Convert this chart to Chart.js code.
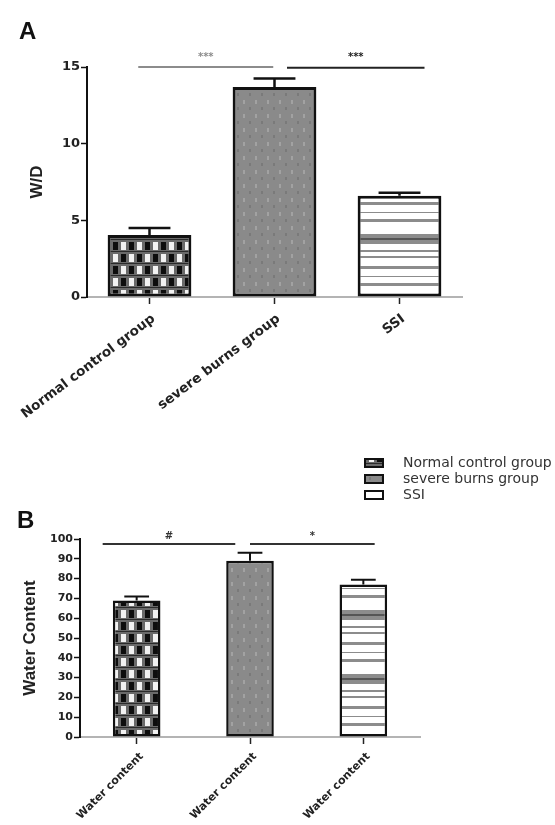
<!DOCTYPE html>
<html>
<head>
<meta charset="utf-8">
<script src="https://cdn.jsdelivr.net/npm/chart.js@4/dist/chart.umd.min.js"></script>
<style>
  html, body { margin: 0; padding: 0; background: #fff; width: 555px; height: 825px; overflow: hidden; }
  canvas { position: absolute; left: 0; }
  #wd { top: 0; }
  #water { top: 440px; }
</style>
</head>
<body>
<canvas id="wd" width="555" height="440"></canvas>
<canvas id="water" width="555" height="385"></canvas>
<script>
// ---- data -------------------------------------------------------------
const groups = ['Normal control group', 'severe burns group', 'SSI'];

// Panel A: wet/dry weight ratio (mean, upper SEM)
const wdValues = [4.05, 13.7, 6.6];
const wdErrors = [0.45, 0.55, 0.2];
const wdTicks = [0, 5, 10, 15];
const wdMarks = ['***', '***'];

// Panel B: water content (%)
const waterLabels = ['Water content', 'Water content', 'Water content'];
const waterValues = [69, 89, 77];
const waterErrors = [2, 4, 2.4];
const waterTicks = [0, 10, 20, 30, 40, 50, 60, 70, 80, 90, 100];
const waterMarks = ['#', '*'];

// ---- fill patterns ----------------------------------------------------
function tile(w, h, paint) {
  const c = document.createElement('canvas');
  c.width = w; c.height = h;
  paint(c.getContext('2d'));
  return c;
}
function makePatterns(ctx) {
  const check = ctx.createPattern(tile(16, 24, g => {
    g.fillStyle = '#6a6a6a'; g.fillRect(0, 0, 16, 24);
    g.fillStyle = '#0d0d0d'; g.fillRect(1, 2, 5, 8); g.fillRect(9, 14, 5, 8);
    g.fillStyle = '#f2f2f2'; g.fillRect(9, 2, 5, 8); g.fillRect(1, 14, 5, 8);
    g.fillStyle = '#2a2a2a'; g.fillRect(0, 11, 16, 1); g.fillRect(0, 23, 16, 1);
  }), 'repeat');
  const dotted = ctx.createPattern(tile(12, 14, g => {
    g.fillStyle = '#8a8a8a'; g.fillRect(0, 0, 12, 14);
    g.fillStyle = '#a2a2a2'; g.fillRect(3, 2, 2, 4);
    g.fillStyle = '#7a7a7a'; g.fillRect(9, 9, 2, 3);
  }), 'repeat');
  const stripes = ctx.createPattern(tile(8, 64, g => {
    g.fillStyle = '#ffffff'; g.fillRect(0, 0, 8, 64);
    g.fillStyle = '#8c8c8c';
    [[0, 2], [10, 3], [20, 1], [27, 3], [42, 10], [58, 2]].forEach(([y, h]) => g.fillRect(0, y, 8, h));
    g.fillStyle = '#555'; g.fillRect(0, 46, 8, 2);
  }), 'repeat');
  return [check, dotted, stripes];
}

// ---- plugins ----------------------------------------------------------
const errorBars = {
  id: 'errorBars',
  afterDatasetsDraw(chart, args, opts) {
    const { ctx, scales: { y } } = chart;
    const meta = chart.getDatasetMeta(0);
    const vals = chart.data.datasets[0].data;
    meta.data.forEach((bar, i) => {
      const yv = y.getPixelForValue(vals[i]);
      const ye = y.getPixelForValue(vals[i] + opts.errors[i]);
      const half = bar.width * opts.cap / 2;
      ctx.save();
      ctx.strokeStyle = '#111';
      ctx.lineWidth = opts.lineWidth;
      ctx.beginPath();
      ctx.moveTo(bar.x, yv); ctx.lineTo(bar.x, ye);
      ctx.moveTo(bar.x - half, ye); ctx.lineTo(bar.x + half, ye);
      ctx.stroke();
      ctx.restore();
    });
  }
};

const brackets = {
  id: 'brackets',
  afterDraw(chart, args, opts) {
    const { ctx, scales: { x, y } } = chart;
    opts.items.forEach(b => {
      const x1 = x.getPixelForValue(b.from);
      const x2 = x.getPixelForValue(b.to);
      const yy = y.getPixelForValue(b.at);
      ctx.save();
      ctx.strokeStyle = b.color;
      ctx.lineWidth = opts.lineWidth;
      ctx.beginPath(); ctx.moveTo(x1, yy); ctx.lineTo(x2, yy); ctx.stroke();
      ctx.fillStyle = b.color;
      ctx.font = opts.font;
      ctx.textAlign = 'center';
      ctx.textBaseline = 'middle';
      ctx.fillText(b.text, (x1 + x2) / 2, yy - opts.gap);
      ctx.restore();
    });
  }
};

const groupLegend = {
  id: 'groupLegend',
  afterDraw(chart, args, opts) {
    const { ctx, chartArea } = chart;
    const fills = chart.data.datasets[0].backgroundColor;
    opts.names.forEach((name, i) => {
      const bx = chartArea.right + opts.dx;
      const by = chartArea.top + opts.dy + i * opts.rowGap;
      ctx.save();
      ctx.fillStyle = fills[i];
      ctx.fillRect(bx, by - 4, 18, 8);
      ctx.strokeStyle = '#111';
      ctx.lineWidth = 2;
      ctx.strokeRect(bx, by - 4, 18, 8);
      ctx.fillStyle = '#333';
      ctx.font = '14px "DejaVu Sans"';
      ctx.textAlign = 'left';
      ctx.textBaseline = 'middle';
      ctx.fillText(name, bx + 38, by);
      ctx.restore();
    });
  }
};

const panelLetter = {
  id: 'panelLetter',
  afterDraw(chart, args, opts) {
    const { ctx } = chart;
    ctx.save();
    ctx.fillStyle = '#111';
    ctx.font = 'bold 24px "Liberation Sans"';
    ctx.textBaseline = 'alphabetic';
    ctx.fillText(opts.text, opts.x, opts.y);
    ctx.restore();
  }
};

// ---- shared axis helpers ---------------------------------------------
function yAxis(ticks, width, fontSize, title, titlePad, titleSize) {
  return {
    min: ticks[0], max: ticks[ticks.length - 1],
    afterBuildTicks: s => { s.ticks = ticks.map(v => ({ value: v })); },
    afterFit: s => { s.width = width; s.paddingTop = 0; s.paddingBottom = 0; },
    border: { color: '#111', width: 2 },
    grid: { drawOnChartArea: false, color: '#111', tickLength: 6, tickWidth: 1.5 },
    ticks: { color: '#222', padding: 1, font: { family: 'DejaVu Sans', weight: 'bold', size: fontSize } },
    title: { display: true, text: title, color: '#222', padding: { top: titlePad, bottom: 0 },
             font: { family: 'Liberation Sans', weight: 'bold', size: titleSize } }
  };
}
function xAxis(height, fontSize, rotation, pad, shift) {
  return {
    offset: true,
    afterFit: s => { s.height = height; s.paddingLeft = 0; s.paddingRight = 0; },
    border: { color: '#b4b4b4', width: 2 },
    grid: { offset: false, drawOnChartArea: false, color: '#222', tickLength: 7, tickWidth: 1.5 },
    ticks: { color: '#222', autoSkip: false, minRotation: rotation, maxRotation: rotation,
             padding: pad, labelOffset: shift,
             font: { family: 'DejaVu Sans', weight: 'bold', size: fontSize } }
  };
}

// ---- Panel A ----------------------------------------------------------
const wdCtx = document.getElementById('wd').getContext('2d');
new Chart(wdCtx, {
  type: 'bar',
  data: {
    labels: groups,
    datasets: [{
      data: wdValues,
      backgroundColor: makePatterns(wdCtx),
      borderColor: '#111',
      borderWidth: 3,
      borderSkipped: false,
      barPercentage: 0.67,
      categoryPercentage: 1
    }]
  },
  options: {
    responsive: false,
    animation: false,
    layout: { padding: { left: 0, top: 67, right: 93, bottom: 0 } },
    scales: {
      x: xAxis(143, 13.5, 37, 7, 4),
      y: yAxis(wdTicks, 87, 13, 'W/D', 27, 17)
    },
    plugins: {
      legend: { display: false },
      tooltip: { enabled: false },
      errorBars: { errors: wdErrors, cap: 0.5, lineWidth: 2.5 },
      brackets: {
        lineWidth: 2, gap: 10, font: 'bold 10px "DejaVu Sans"',
        items: [
          { from: -0.09, to: 0.99, at: 15, text: wdMarks[0], color: '#8c8c8c' },
          { from: 1.1, to: 2.2, at: 14.95, text: wdMarks[1], color: '#222' }
        ]
      },
      panelLetter: { text: 'A', x: 19, y: 39 }
    }
  },
  plugins: [errorBars, brackets, panelLetter]
});

// ---- Panel B ----------------------------------------------------------
const waterCtx = document.getElementById('water').getContext('2d');
new Chart(waterCtx, {
  type: 'bar',
  data: {
    labels: waterLabels,
    datasets: [{
      data: waterValues,
      backgroundColor: makePatterns(waterCtx),
      borderColor: '#111',
      borderWidth: 2.5,
      borderSkipped: false,
      barPercentage: 0.42,
      categoryPercentage: 1
    }]
  },
  options: {
    responsive: false,
    animation: false,
    layout: { padding: { left: 0, top: 99, right: 135, bottom: 0 } },
    scales: {
      x: xAxis(88, 11, 45, 6, 5),
      y: yAxis(waterTicks, 80, 11, 'Water Content', 20, 17)
    },
    plugins: {
      legend: { display: false },
      tooltip: { enabled: false },
      errorBars: { errors: waterErrors, cap: 0.52, lineWidth: 2 },
      brackets: {
        lineWidth: 2, gap: 8, font: 'bold 10px "DejaVu Sans"',
        items: [
          { from: -0.3, to: 0.87, at: 97.5, text: waterMarks[0], color: '#333' },
          { from: 1.0, to: 2.1, at: 97.5, text: waterMarks[1], color: '#333' }
        ]
      },
      groupLegend: { names: groups, dx: -55, dy: -76, rowGap: 16 },
      panelLetter: { text: 'B', x: 17, y: 88 }
    }
  },
  plugins: [errorBars, brackets, groupLegend, panelLetter]
});
</script>
</body>
</html>
